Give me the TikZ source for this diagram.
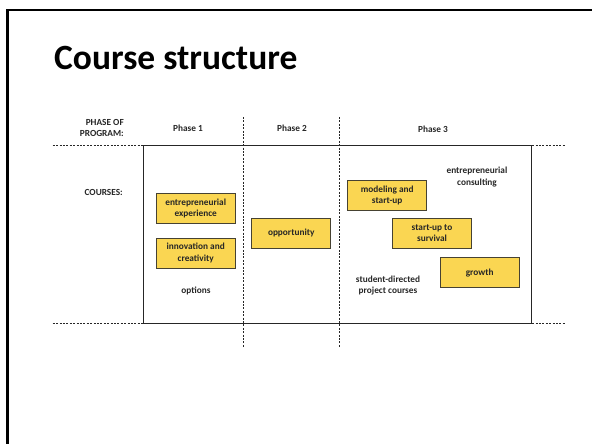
\documentclass[tikz,border=0pt]{standalone}
\usepackage{fontspec}
\setmainfont{Carlito}
\usepackage{tikz}
\usetikzlibrary{calc}
\definecolor{boxyellow}{RGB}{250,214,82}
\definecolor{boxedge}{RGB}{70,66,50}
\definecolor{textgray}{RGB}{38,38,38}
\tikzset{
  coursebox/.style={draw=boxedge, fill=boxyellow, line width=0.8pt, minimum width=79pt,
    minimum height=30pt, inner sep=0pt, align=center, font=\fontsize{9.3}{11.4}\bfseries\selectfont, text=textgray},
  plaintext/.style={align=center, inner sep=0pt, font=\fontsize{9.3}{11.4}\bfseries\selectfont, text=textgray},
  gridline/.style={textgray, line width=0.7pt, dash pattern=on 2pt off 1.4pt}
}

\begin{document}
\begin{tikzpicture}[x=1pt, y=-1pt]
    \useasboundingbox (0,0) rectangle (592,444);

    % Slide frame
    \draw[line width=2.2pt] (7.5,450) -- (7.5,10) -- (600,10);

    % Title
    \node[anchor=base west, inner sep=0pt, font=\fontsize{35.5}{38}\bfseries\selectfont] (title) at (54,69.5) {Course structure};

    % Header row
    \node[plaintext, align=right, anchor=east] (phaselbl) at (124,128) {PHASE OF\\PROGRAM:};
    \node[plaintext] (phase1) at (188,128) {Phase 1};
    \node[plaintext] (phase2) at (292,128) {Phase 2};
    \node[plaintext] (phase3) at (433,129) {Phase 3};
    \node[plaintext, anchor=east] (courses) at (123,192) {COURSES:};

    % Grid lines
    \draw[gridline] (52.7,145) -- (565,145);
    \draw[gridline] (52.7,323.3) -- (565,323.3);
    \draw[gridline] (243.3,117) -- (243.3,348);
    \draw[gridline] (339,117) -- (339,348);

    % Course frame
    \draw[textgray, line width=0.9pt] (143.3,145) rectangle (531,323.3);

    % Courses
    \node[coursebox] (entexp) at (195.7,208.3) {entrepreneurial\\experience};
    \node[coursebox] (innov) at (195.7,253) {innovation and\\creativity};
    \node[plaintext] (options) at (196,291) {options};
    \node[coursebox] (oppty) at (291.2,233.3) {opportunity};
    \node[coursebox] (model) at (387.2,195.5) {modeling and\\start-up};
    \node[plaintext] (consult) at (477,177) {entrepreneurial\\consulting};
    \node[coursebox] (survive) at (432,233.3) {start-up to\\survival};
    \node[coursebox] (growth) at (479.7,272.7) {growth};
    \node[plaintext] (student) at (388,285.5) {student-directed\\project courses};
\end{tikzpicture}
\end{document}
